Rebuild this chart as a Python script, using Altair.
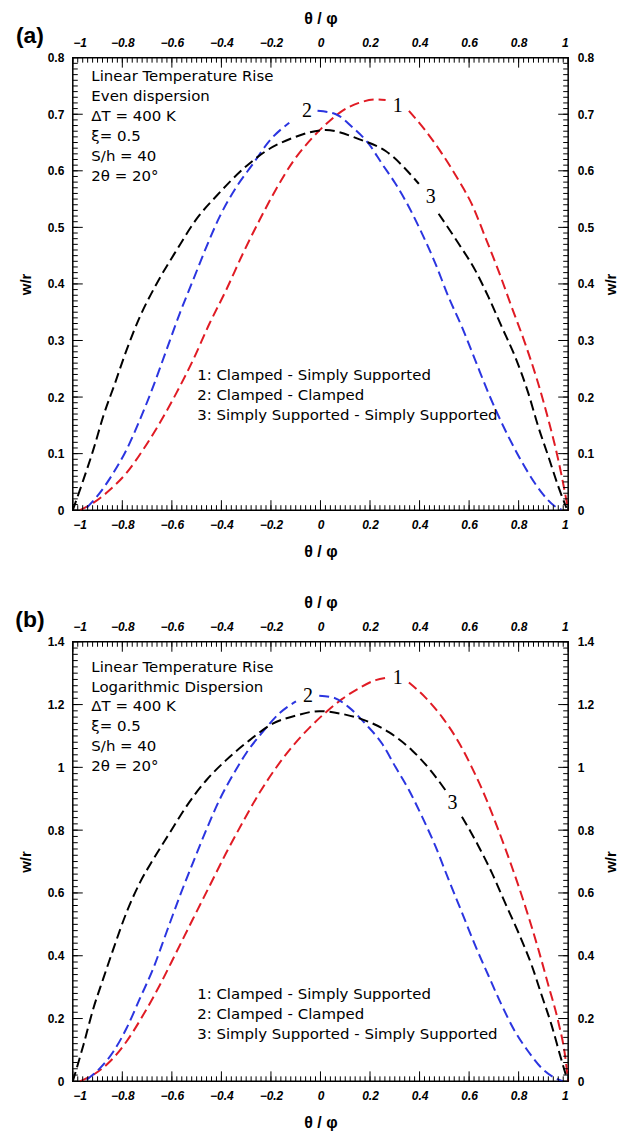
import altair as alt
import pandas as pd
import numpy as np

# ---------------- Panel (a): Even dispersion ----------------
A_RED_X = [-0.971, -0.917, -0.850, -0.783, -0.716, -0.649, -0.582, -0.515, -0.448, -0.381, -0.314, -0.247,
           -0.180, -0.113, -0.046, 0.021, 0.088, 0.155, 0.223, 0.263, 0.357, 0.424, 0.491, 0.558, 0.611,
           0.665, 0.718, 0.772, 0.826, 0.879, 0.920, 0.960, 0.987, 1.0]
A_RED_Y = [0.0, 0.013, 0.036, 0.066, 0.107, 0.154, 0.207, 0.265, 0.330, 0.389, 0.453, 0.512,
           0.567, 0.615, 0.652, 0.682, 0.706, 0.720, 0.726, 0.725, 0.706, 0.671, 0.630, 0.583, 0.541,
           0.483, 0.424, 0.359, 0.295, 0.224, 0.160, 0.089, 0.031, 0.0]

A_BLUE_X = [-0.944, -0.890, -0.836, -0.783, -0.729, -0.676, -0.622, -0.568, -0.515, -0.461, -0.408, -0.340,
            -0.273, -0.206, -0.126, -0.012, 0.062, 0.129, 0.196, 0.249, 0.303, 0.357, 0.410, 0.464, 0.517,
            0.571, 0.625, 0.678, 0.732, 0.786, 0.839, 0.893, 0.946, 0.973]
A_BLUE_Y = [0.004, 0.031, 0.066, 0.107, 0.160, 0.218, 0.283, 0.348, 0.406, 0.465, 0.518, 0.571,
            0.612, 0.653, 0.685, 0.706, 0.700, 0.677, 0.647, 0.612, 0.577, 0.536, 0.489, 0.436, 0.377,
            0.324, 0.265, 0.207, 0.154, 0.107, 0.066, 0.031, 0.007, 0.001]

A_BLACK_X = [-1.0, -0.957, -0.917, -0.877, -0.830, -0.783, -0.729, -0.662, -0.582, -0.495, -0.421, -0.300,
             -0.220, -0.113, 0.021, 0.155, 0.263, 0.397, 0.477, 0.558, 0.625, 0.678, 0.732, 0.786, 0.839,
             0.879, 0.920, 0.960, 0.993]
A_BLACK_Y = [0.0, 0.054, 0.107, 0.166, 0.224, 0.283, 0.342, 0.400, 0.459, 0.518, 0.555, 0.608,
             0.635, 0.658, 0.672, 0.656, 0.635, 0.577, 0.524, 0.471, 0.424, 0.377, 0.324, 0.271, 0.207,
             0.148, 0.095, 0.042, 0.004]

# ---------------- Panel (b): Logarithmic dispersion ----------------
B_RED_X = [-0.971, -0.917, -0.850, -0.783, -0.716, -0.649, -0.582, -0.515, -0.448, -0.381, -0.314, -0.247,
           -0.180, -0.113, -0.046, 0.021, 0.088, 0.155, 0.223, 0.269, 0.357, 0.424, 0.491, 0.558, 0.611,
           0.665, 0.718, 0.772, 0.826, 0.879, 0.920, 0.960, 0.987, 1.0]
B_RED_Y = [0.0, 0.021, 0.063, 0.127, 0.211, 0.306, 0.411, 0.517, 0.622, 0.727, 0.825, 0.918,
           0.998, 1.067, 1.125, 1.175, 1.218, 1.252, 1.278, 1.286, 1.270, 1.222, 1.160, 1.080, 1.000,
           0.907, 0.801, 0.685, 0.559, 0.422, 0.306, 0.190, 0.084, 0.0]

B_BLUE_X = [-0.944, -0.890, -0.836, -0.783, -0.729, -0.676, -0.622, -0.568, -0.515, -0.461, -0.408, -0.354,
            -0.300, -0.233, -0.166, -0.099, -0.005, 0.048, 0.115, 0.182, 0.249, 0.303, 0.357, 0.410, 0.464,
            0.517, 0.571, 0.625, 0.678, 0.732, 0.786, 0.839, 0.893, 0.946, 0.979]
B_BLUE_Y = [0.005, 0.042, 0.095, 0.169, 0.264, 0.358, 0.474, 0.590, 0.696, 0.801, 0.896, 0.975,
            1.045, 1.113, 1.172, 1.210, 1.228, 1.223, 1.191, 1.138, 1.075, 1.001, 0.928, 0.843, 0.749,
            0.643, 0.538, 0.432, 0.337, 0.242, 0.158, 0.095, 0.042, 0.011, 0.0]

B_BLACK_X = [-1.0, -0.957, -0.917, -0.877, -0.836, -0.783, -0.729, -0.676, -0.609, -0.542, -0.461, -0.381,
             -0.287, -0.193, -0.099, -0.005, 0.088, 0.182, 0.276, 0.370, 0.450, 0.504, 0.571, 0.638, 0.692,
             0.745, 0.799, 0.853, 0.893, 0.933, 0.967, 0.994]
B_BLACK_Y = [0.0, 0.116, 0.232, 0.327, 0.422, 0.538, 0.633, 0.706, 0.791, 0.875, 0.959, 1.023,
             1.086, 1.139, 1.165, 1.179, 1.170, 1.149, 1.112, 1.054, 0.985, 0.928, 0.843, 0.749, 0.664,
             0.569, 0.474, 0.369, 0.274, 0.179, 0.084, 0.011]

# label positions (curve number labels, where the dashed lines are interrupted)
A_LABEL_X = [0.312, -0.054, 0.445]
A_LABEL_Y = [0.714, 0.705, 0.553]
B_LABEL_X = [0.312, -0.050, 0.533]
B_LABEL_Y = [1.286, 1.226, 0.885]
CURVE_IDS = ["1", "2", "3"]

X_MAJOR = [-1, -0.8, -0.6, -0.4, -0.2, 0, 0.2, 0.4, 0.6, 0.8, 1]
A_Y_MAJOR = [0, 0.1, 0.2, 0.3, 0.4, 0.5, 0.6, 0.7, 0.8]
B_Y_MAJOR = [0, 0.2, 0.4, 0.6, 0.8, 1.0, 1.2, 1.4]

A_INFO = ["Linear Temperature Rise", "Even dispersion", "\u0394T = 400 K", "\u03be= 0.5", "S/h = 40", "2\u03b8 = 20\u00b0"]
B_INFO = ["Linear Temperature Rise", "Logarithmic Dispersion", "\u0394T = 400 K", "\u03be= 0.5", "S/h = 40", "2\u03b8 = 20\u00b0"]
LEGEND = ["1: Clamped - Simply Supported", "2: Clamped - Clamped", "3: Simply Supported - Simply Supported"]
X_TITLE = "\u03b8 / \u03c6"

COLORS = ["#e01b24", "#2b35e0", "#000000"]
FONT = "Liberation Sans"
TEXT_FONT = "DejaVu Sans"
W = 497


def series(xs, ys, cid, gap):
    return pd.DataFrame({"x": xs, "y": ys, "curve": cid,
                         "key": [f"{cid}-{0 if x < gap else 1}" for x in xs]})


def panel(red, blue, black, gaps, ymax, y_major, y_minor_step, lab_x, lab_y, info, info_y, legend_y, tag, H):
    xs = alt.Scale(domain=[-1, 1], nice=False, zero=False)
    ys = alt.Scale(domain=[0, ymax], nice=False, zero=False)
    lines_df = pd.concat([series(*red, "1", gaps[0]), series(*blue, "2", gaps[1]), series(*black, "3", gaps[2])])

    lab_fmt = "format(datum.value, '~g')"
    lines = alt.Chart(lines_df).mark_line(strokeDash=[10, 5], strokeWidth=2, interpolate="monotone").encode(
        x=alt.X("x:Q", scale=xs, axis=alt.Axis(orient="bottom", values=X_MAJOR, ticks=False, domain=False,
                                               grid=False, labelExpr=lab_fmt, labelFont=FONT, labelFontSize=12,
                                               labelFontStyle="italic", labelFontWeight="bold", labelPadding=9,
                                               labelColor="black", title=X_TITLE, titleFont=FONT,
                                               titleFontSize=16, titleFontWeight="bold", titlePadding=13,
                                               titleColor="black")),
        y=alt.Y("y:Q", scale=ys, axis=alt.Axis(orient="left", values=y_major, ticks=False, domain=False,
                                               grid=False, labelExpr=lab_fmt, labelFont=FONT, labelFontSize=12,
                                               labelFontWeight="bold", labelPadding=9, labelColor="black",
                                               title="w/r", titleFont=FONT, titleFontSize=15,
                                               titleFontWeight="bold", titlePadding=14, titleColor="black")),
        color=alt.Color("curve:N", scale=alt.Scale(domain=CURVE_IDS, range=COLORS), legend=None),
        detail="key:N",
    )

    x_minor = pd.DataFrame({"v": np.round(np.arange(-1, 1.0001, 0.02), 3)})
    x_major = pd.DataFrame({"v": X_MAJOR})
    y_minor = pd.DataFrame({"v": np.round(np.arange(0, ymax + 1e-6, y_minor_step), 3)})
    y_major_df = pd.DataFrame({"v": y_major})

    def xt(df, y0, y1, axis=None):
        return alt.Chart(df).mark_rule(color="black", strokeWidth=1).encode(
            x=alt.X("v:Q", scale=xs, axis=axis), y=alt.value(y0), y2=alt.value(y1))

    def yt(df, x0, x1, axis=None):
        return alt.Chart(df).mark_rule(color="black", strokeWidth=1).encode(
            y=alt.Y("v:Q", scale=ys, axis=axis), x=alt.value(x0), x2=alt.value(x1))

    top_axis = alt.Axis(orient="top", values=X_MAJOR, ticks=False, domain=False, grid=False, labelExpr=lab_fmt,
                        labelFont=FONT, labelFontSize=12, labelFontStyle="italic", labelFontWeight="bold",
                        labelPadding=8, labelColor="black", title=X_TITLE, titleFont=FONT,
                        titleFontSize=16, titleFontWeight="bold", titlePadding=10, titleColor="black")
    right_axis = alt.Axis(orient="right", values=y_major, ticks=False, domain=False, grid=False,
                          labelExpr=lab_fmt, labelFont=FONT, labelFontSize=12, labelFontWeight="bold",
                          labelPadding=9, labelColor="black", title="w/r", titleFont=FONT, titleFontSize=15,
                          titleFontWeight="bold", titlePadding=25, titleAngle=270, titleColor="black")

    ticks = [
        xt(x_minor, H, H - 5), xt(x_major, H, H - 10),
        xt(x_minor, 0, 5), xt(x_major, 0, 10, top_axis),
        yt(y_minor, 0, 5), yt(y_major_df, 0, 10),
        yt(y_minor, W, W - 5), yt(y_major_df, W, W - 10, right_axis),
    ]

    text_df = pd.DataFrame({"x": [-0.925, -0.498], "y": [info_y, legend_y], "t": [info, LEGEND]})
    texts = alt.Chart(text_df).mark_text(align="left", baseline="alphabetic", font=TEXT_FONT, fontSize=15,
                                         lineHeight=20, color="black").encode(
        x=alt.X("x:Q", scale=xs, axis=None), y=alt.Y("y:Q", scale=ys, axis=None), text="t")

    lab_df = pd.DataFrame({"x": lab_x, "y": lab_y, "t": CURVE_IDS})
    labels = alt.Chart(lab_df).mark_text(align="center", baseline="middle", font="Liberation Serif",
                                         fontSize=20, color="black").encode(
        x=alt.X("x:Q", scale=xs, axis=None), y=alt.Y("y:Q", scale=ys, axis=None), text="t")

    tag_mark = alt.Chart(pd.DataFrame({"t": [tag]})).mark_text(
        align="center", baseline="middle", font=FONT, fontSize=23, fontWeight="bold", color="black"
    ).encode(x=alt.value(-43), y=alt.value(-22), text="t")

    return alt.layer(lines, *ticks, texts, labels, tag_mark).resolve_scale(
        x="independent", y="independent").properties(width=W, height=H)


pa = panel((A_RED_X, A_RED_Y), (A_BLUE_X, A_BLUE_Y), (A_BLACK_X, A_BLACK_Y), [0.31, -0.07, 0.44],
           0.8, A_Y_MAJOR, 0.01, A_LABEL_X, A_LABEL_Y, A_INFO, 0.758, 0.230, "(a)", 454)
pb = panel((B_RED_X, B_RED_Y), (B_BLUE_X, B_BLUE_Y), (B_BLACK_X, B_BLACK_Y), [0.31, -0.05, 0.54],
           1.4, B_Y_MAJOR, 0.02, B_LABEL_X, B_LABEL_Y, B_INFO, 1.305, 0.262, "(b)", 441)

chart = alt.vconcat(pa, pb, spacing=34).configure_view(stroke="black", strokeWidth=1.5).properties(
    padding={"left": 6, "top": 0, "right": 2, "bottom": 0}, background="white")

chart.save("out.html", embed_options={"renderer": "svg", "actions": False})
